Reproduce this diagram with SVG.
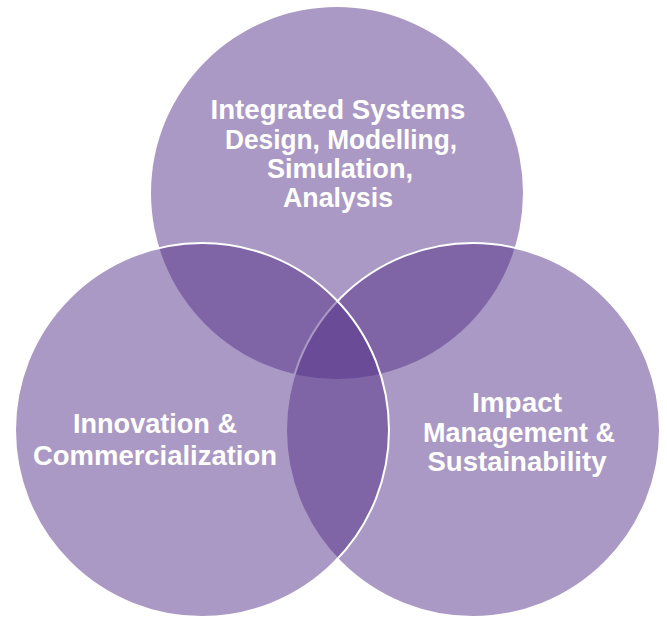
<svg xmlns="http://www.w3.org/2000/svg" width="667" height="618" viewBox="0 0 667 618">
<style>
.c{fill:rgb(83,48,136);fill-opacity:0.494}
.s{stroke:#ffffff;stroke-width:2}
.t{font-family:"Liberation Sans",Arial,sans-serif;font-weight:bold;font-size:28px;fill:#ffffff;text-anchor:middle}
</style>
<rect width="667" height="618" fill="#ffffff"/>
<g id="circle-top">
<circle class="c" cx="337" cy="193" r="186"/>
</g>
<g id="circle-right">
<circle class="c s" cx="473" cy="430" r="187"/>
</g>
<g id="circle-left">
<circle class="c s" cx="202" cy="430" r="187"/>
</g>
<g id="label-top">
<text class="t" x="338" y="119" textLength="255" lengthAdjust="spacingAndGlyphs">Integrated Systems</text>
<text class="t" x="341" y="149" textLength="232" lengthAdjust="spacingAndGlyphs">Design, Modelling,</text>
<text class="t" x="340" y="178" textLength="146" lengthAdjust="spacingAndGlyphs">Simulation,</text>
<text class="t" x="338" y="207" textLength="110" lengthAdjust="spacingAndGlyphs">Analysis</text>
</g>
<g id="label-left">
<text class="t" x="155" y="433" textLength="164" lengthAdjust="spacingAndGlyphs">Innovation &amp;</text>
<text class="t" x="155" y="465" textLength="244" lengthAdjust="spacingAndGlyphs">Commercialization</text>
</g>
<g id="label-right">
<text class="t" x="517" y="412" textLength="90" lengthAdjust="spacingAndGlyphs">Impact</text>
<text class="t" x="519" y="442" textLength="192" lengthAdjust="spacingAndGlyphs">Management &amp;</text>
<text class="t" x="517" y="471" textLength="179" lengthAdjust="spacingAndGlyphs">Sustainability</text>
</g>
<g id="connectors"></g>
</svg>
